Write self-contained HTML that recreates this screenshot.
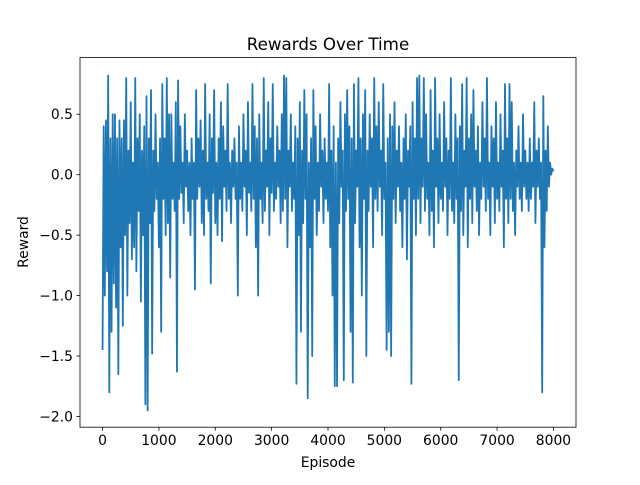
<!DOCTYPE html>
<html><head><meta charset="utf-8"><style>
body{margin:0;background:#fff;}
svg text{font-family:"DejaVu Sans","Liberation Sans",sans-serif;fill:#000;}
</style></head><body>
<svg width="640" height="480" xmlns="http://www.w3.org/2000/svg">
<rect width="640" height="480" fill="#fff"/>
<text x="328" y="50" font-size="16.7" text-anchor="middle">Rewards Over Time</text>
<g id="plot"></g>
<rect x="80" y="57.6" width="496" height="369.6" fill="none" stroke="#000" stroke-width="0.8"/>
<text x="328" y="467" font-size="13.9" text-anchor="middle">Episode</text>
<text x="0" y="0" font-size="13.9" text-anchor="middle" transform="translate(28,242) rotate(-90)">Reward</text>
</svg>
<script>
const xTicks=[0,1000,2000,3000,4000,5000,6000,7000,8000];
const yTicks=[0.5,0.0,-0.5,-1.0,-1.5,-2.0];
const yTickLabels=["0.5","0.0","−0.5","−1.0","−1.5","−2.0"];
const episodeStep=20;
const rewards=[
-1.45,0.4,-1.0,0.45,-0.8,0.82,-1.8,0.3,-1.3,0.5,-0.9,0.5,-1.1,0.3,-1.65,0.45,-0.6,0.3,-1.25,0.45,
-0.5,0.8,-1.0,0.2,-0.4,0.6,-0.7,0.1,-0.6,0.8,-0.8,0.3,-0.3,0.5,-1.05,0.2,-0.5,0.4,-1.9,0.65,
-1.95,0.3,-0.4,0.7,-1.48,0.2,-0.3,0.5,-0.2,0.1,-0.6,0.3,-1.3,0.75,-0.2,0.3,-0.5,0.8,-0.4,0.5,
-0.85,0.5,-0.2,0.1,-0.3,0.6,-1.63,0.78,-0.2,0.4,-0.15,0.1,-0.4,0.5,-0.1,0.2,-0.3,0.1,-0.5,0.3,
-0.2,0.1,-0.95,0.7,-0.2,0.3,-0.1,0.45,-0.4,0.2,-0.5,0.75,-0.2,0.1,-0.3,0.5,-0.9,0.3,-0.15,0.7,
-0.4,0.1,-0.5,0.3,-0.2,0.6,-0.55,0.4,-0.1,0.2,-0.3,0.75,-0.2,0.1,-0.4,0.2,-0.1,0.3,-0.2,0.1,
-1.0,0.4,-0.2,0.1,-0.3,0.5,-0.1,0.2,-0.5,0.6,-0.15,0.1,-0.3,0.75,-0.2,0.4,-0.6,0.3,-1.0,0.5,
-0.2,0.1,-0.4,0.8,-0.3,0.2,-0.1,0.6,-0.5,0.3,-0.15,0.75,-0.3,0.1,-0.2,0.4,-0.1,0.2,-0.4,0.5,
-0.3,0.82,-0.2,0.8,-0.6,0.2,-0.1,0.5,-0.3,0.1,-0.2,0.4,-1.73,0.3,-0.5,0.6,-1.3,0.2,-0.4,0.7,
-0.2,0.5,-1.85,0.1,-0.6,0.3,-1.5,0.7,-0.2,0.4,-0.5,0.1,-0.3,0.5,-0.1,0.2,-0.4,0.3,-0.2,0.1,
-0.3,0.75,-0.6,0.2,-1.0,0.4,-1.75,0.1,-1.75,0.3,-0.4,0.6,-0.1,0.2,-1.7,0.5,-0.3,0.7,-0.2,0.4,
-1.3,0.3,-1.72,0.75,-0.4,0.2,-0.1,0.8,-0.6,0.3,-1.0,0.5,-0.2,0.7,-1.5,0.2,-0.3,0.5,-0.1,0.3,
-0.6,0.8,-0.2,0.4,-0.3,0.6,-0.1,0.2,-0.5,0.75,-0.2,0.1,-1.45,0.3,-1.3,0.5,-1.5,0.4,-0.2,0.6,
-0.4,0.2,-0.1,0.4,-0.3,0.1,-0.6,0.3,-0.2,0.5,-0.7,0.2,-0.1,0.4,-1.73,0.6,-0.2,0.3,-0.5,0.8,
-0.2,0.82,-0.4,0.3,-0.1,0.8,-0.3,0.5,-0.2,0.1,-0.5,0.7,-0.3,0.2,-0.6,0.8,-0.1,0.3,-0.4,0.5,
-0.2,0.1,-0.3,0.6,-0.1,0.3,-0.5,0.2,-0.2,0.8,-0.3,0.1,-0.4,0.5,-0.2,0.3,-1.7,0.4,-0.3,0.75,
-0.5,0.2,-0.1,0.8,-0.6,0.3,-0.2,0.5,-0.4,0.7,-0.1,0.2,-0.3,0.4,-0.5,0.1,-0.2,0.6,-0.1,0.3,
-0.3,0.8,-0.2,0.1,-0.5,0.4,-0.1,0.3,-0.4,0.6,-0.2,0.1,-0.3,0.5,-0.1,0.2,-0.6,0.75,-0.2,0.3,
-0.4,0.75,-0.2,0.6,-0.3,0.1,-0.5,0.2,-0.1,0.4,-0.2,0.1,-0.3,0.5,-0.1,0.2,-0.2,0.1,-0.3,0.3,
-0.2,0.1,-0.1,0.6,-0.4,0.2,-0.1,0.3,-0.2,0.1,-1.8,0.65,-0.6,0.2,-0.3,0.4,-0.1,0.1,0.0,0.05,
0.03];
const NS="http://www.w3.org/2000/svg";
const L=80,R=576,T=57.6,B=427.2;
const xMin=-400,xMax=8400,yMin=-2.0885,yMax=0.9685;
function sx(v){return L+(v-xMin)/(xMax-xMin)*(R-L);}
function sy(v){return T+(yMax-v)/(yMax-yMin)*(B-T);}
const g=document.getElementById('plot');
let d="";
rewards.forEach((v,i)=>{d+=(i?"L":"M")+sx(i*episodeStep).toFixed(2)+","+sy(v).toFixed(2);});
const p=document.createElementNS(NS,'path');
p.setAttribute('d',d);p.setAttribute('fill','none');p.setAttribute('stroke','#1f77b4');
p.setAttribute('stroke-width','1.8');p.setAttribute('stroke-linejoin','round');


g.appendChild(p);
xTicks.forEach(t=>{
 const x=sx(t);
 const ln=document.createElementNS(NS,'line');
 ln.setAttribute('x1',x);ln.setAttribute('x2',x);ln.setAttribute('y1',B);ln.setAttribute('y2',B+3.5);
 ln.setAttribute('stroke','#000');ln.setAttribute('stroke-width','0.8');
 
 
 g.appendChild(ln);
 const tx=document.createElementNS(NS,'text');
 tx.setAttribute('x',x);tx.setAttribute('y',B+18);tx.setAttribute('font-size','13.9');tx.setAttribute('text-anchor','middle');
 tx.textContent=String(t);
 
 
 g.appendChild(tx);
});
yTicks.forEach((t,i)=>{
 const y=sy(t);
 const ln=document.createElementNS(NS,'line');
 ln.setAttribute('x1',L-3.5);ln.setAttribute('x2',L);ln.setAttribute('y1',y);ln.setAttribute('y2',y);
 ln.setAttribute('stroke','#000');ln.setAttribute('stroke-width','0.8');
 
 
 g.appendChild(ln);
 const tx=document.createElementNS(NS,'text');
 tx.setAttribute('x',L-7);tx.setAttribute('y',y+5);tx.setAttribute('font-size','13.9');tx.setAttribute('text-anchor','end');
 tx.textContent=yTickLabels[i];
 
 
 g.appendChild(tx);
});
</script>
</body></html>
